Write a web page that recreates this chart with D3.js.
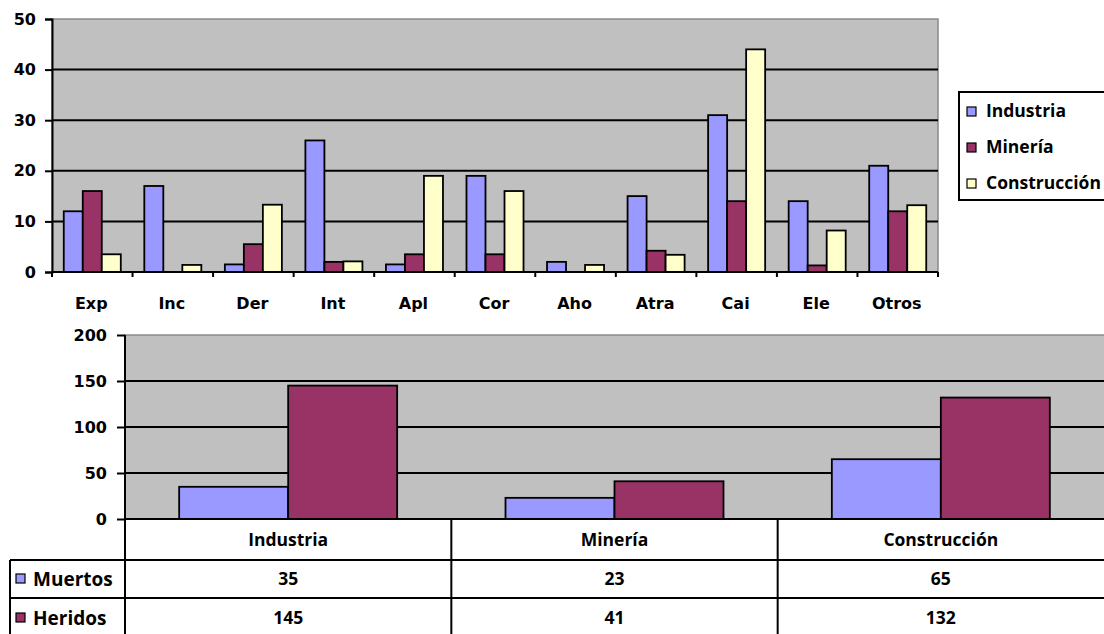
<!DOCTYPE html>
<html>
<head>
<meta charset="utf-8">
<script src="https://cdn.jsdelivr.net/npm/d3@7"></script>
<style>
    body { margin: 0; background: #fff; }
    svg { display: block; }
    .tick-lbl { font-family: "DejaVu Sans", Verdana, sans-serif; font-weight: bold; font-size: 16px; fill: #000; }
    .leg-lbl, .tbl-lbl { font-family: "Open Sans", sans-serif; font-weight: bold; font-size: 17.5px; fill: #000; }
</style>
</head>
<body>
<div id="chart"></div>
<script>
// causes of accidents (top chart), percent by sector
const causas = ["Exp", "Inc", "Der", "Int", "Apl", "Cor", "Aho", "Atra", "Cai", "Ele", "Otros"];
const sectores = ["Industria", "Minería", "Construcción"];
const industria = [12, 17, 1.5, 26, 1.5, 19, 2, 15, 31, 14, 21];
const mineria = [16, 0, 5.5, 2, 3.5, 3.5, 0, 4.2, 14, 1.3, 12];
const construccion = [3.5, 1.4, 13.3, 2.1, 19, 16, 1.4, 3.4, 44, 8.2, 13.2];
const yTicksTop = [0, 10, 20, 30, 40, 50];

// deaths / injuries by sector (bottom chart + table)
const filas = ["Muertos", "Heridos"];
const muertos = [35, 23, 65];
const heridos = [145, 41, 132];
const yTicksBottom = [0, 50, 100, 150, 200];

const colors = ["#9999ff", "#993366", "#ffffcc"];
const plotGray = "#c0c0c0";

let svg = d3.select("#chart").append("svg")
    .attr("width", 1104)
    .attr("height", 634);

/* * * * * top chart * * * * */
let topM = {left: 52, right: 938, top: 19, bottom: 272};

let x0 = d3.scaleBand().domain(causas).range([topM.left, topM.right]);
let bw = x0.bandwidth();
let x1 = d3.scaleBand().domain(sectores).range([bw * 0.146, bw * 0.854]);
let y = d3.scaleLinear().domain([0, 50]).range([topM.bottom, topM.top]);

let gTop = svg.append("g").attr("class", "top-chart");

gTop.append("rect")
    .attr("x", topM.left).attr("y", topM.top)
    .attr("width", topM.right - topM.left).attr("height", topM.bottom - topM.top)
    .attr("fill", plotGray)
    .attr("stroke", "#8a8a8a").attr("stroke-width", 1.5);

// gridlines
gTop.selectAll(".grid")
    .data(yTicksTop.filter(d => d > 0 && d < 50))
    .enter().append("line")
    .attr("class", "grid")
    .attr("x1", topM.left).attr("x2", topM.right)
    .attr("y1", d => y(d)).attr("y2", d => y(d))
    .attr("stroke", "#000").attr("stroke-width", 2);

let topData = causas.map((c, i) => ({
    causa: c,
    values: [industria[i], mineria[i], construccion[i]]
}));

let groups = gTop.selectAll(".grp")
    .data(topData)
    .enter().append("g")
    .attr("class", "grp")
    .attr("transform", d => `translate(${x0(d.causa)},0)`);

groups.selectAll("rect")
    .data(d => d.values.map((v, j) => ({serie: sectores[j], value: v, color: colors[j]})).filter(e => e.value > 0))
    .enter().append("rect")
    .attr("x", d => x1(d.serie))
    .attr("width", x1.bandwidth())
    .attr("y", d => y(d.value))
    .attr("height", d => y(0) - y(d.value))
    .attr("fill", d => d.color)
    .attr("stroke", "#000").attr("stroke-width", 1.8);

// axes
let yAxisTop = d3.axisLeft(y).tickValues(yTicksTop).tickSize(7).tickPadding(9);
gTop.append("g")
    .attr("transform", `translate(${topM.left},0)`)
    .call(yAxisTop)
    .call(g => g.select(".domain").attr("stroke-width", 2))
    .call(g => g.selectAll(".tick line").attr("stroke-width", 2))
    .call(g => g.selectAll(".tick text").attr("class", "tick-lbl").attr("font-size", null).attr("font-family", null));

gTop.append("line")
    .attr("x1", topM.left).attr("x2", topM.right)
    .attr("y1", topM.bottom).attr("y2", topM.bottom)
    .attr("stroke", "#000").attr("stroke-width", 2);

// tick marks at category boundaries
gTop.selectAll(".xtick")
    .data(causas.concat(["end"]))
    .enter().append("line")
    .attr("class", "xtick")
    .attr("x1", (d, i) => topM.left + i * bw).attr("x2", (d, i) => topM.left + i * bw)
    .attr("y1", topM.bottom).attr("y2", topM.bottom + 5)
    .attr("stroke", "#000").attr("stroke-width", 2);

gTop.selectAll(".xlbl")
    .data(causas)
    .enter().append("text")
    .attr("class", "tick-lbl")
    .attr("x", d => x0(d) + bw / 2 - 1)
    .attr("y", 303)
    .attr("dy", "0.35em")
    .attr("text-anchor", "middle")
    .text(d => d);

// legend
let leg = svg.append("g").attr("class", "legend");
leg.append("rect")
    .attr("x", 959).attr("y", 92)
    .attr("width", 160).attr("height", 108)
    .attr("fill", "#fff")
    .attr("stroke", "#000").attr("stroke-width", 2);

let legItems = leg.selectAll(".leg-item")
    .data(sectores)
    .enter().append("g")
    .attr("class", "leg-item")
    .attr("transform", (d, i) => `translate(967, ${111 + i * 36})`);

legItems.append("rect")
    .attr("x", 0).attr("y", -4)
    .attr("width", 9).attr("height", 9)
    .attr("fill", (d, i) => colors[i])
    .attr("stroke", "#000").attr("stroke-width", 1.2);

legItems.append("text")
    .attr("class", "leg-lbl")
    .attr("x", 19).attr("y", 0)
    .attr("dy", "0.35em")
    .text(d => d);

/* * * * * bottom chart with data table * * * * */
let bot = {left: 125, right: 1104, top: 335, bottom: 519};

let xb = d3.scaleBand().domain(sectores).range([bot.left, bot.right]);
let bbw = xb.bandwidth();
let xb1 = d3.scaleBand().domain(filas).range([bbw * 0.166, bbw * 0.834]);
let yb = d3.scaleLinear().domain([0, 200]).range([bot.bottom, bot.top]);

let gBot = svg.append("g").attr("class", "bottom-chart");

gBot.append("rect")
    .attr("x", bot.left).attr("y", bot.top)
    .attr("width", bot.right - bot.left + 2).attr("height", bot.bottom - bot.top)
    .attr("fill", plotGray)
    .attr("stroke", "#8a8a8a").attr("stroke-width", 1.5);

gBot.selectAll(".grid")
    .data(yTicksBottom.filter(d => d > 0 && d < 200))
    .enter().append("line")
    .attr("class", "grid")
    .attr("x1", bot.left).attr("x2", bot.right)
    .attr("y1", d => yb(d)).attr("y2", d => yb(d))
    .attr("stroke", "#000").attr("stroke-width", 2);

let botData = sectores.map((s, i) => ({
    sector: s,
    values: [{fila: "Muertos", value: muertos[i], color: colors[0]},
             {fila: "Heridos", value: heridos[i], color: colors[1]}]
}));

gBot.selectAll(".bgrp")
    .data(botData)
    .enter().append("g")
    .attr("class", "bgrp")
    .attr("transform", d => `translate(${xb(d.sector)},0)`)
    .selectAll("rect")
    .data(d => d.values)
    .enter().append("rect")
    .attr("x", d => xb1(d.fila))
    .attr("width", xb1.bandwidth())
    .attr("y", d => yb(d.value))
    .attr("height", d => yb(0) - yb(d.value))
    .attr("fill", d => d.color)
    .attr("stroke", "#000").attr("stroke-width", 1.8);

let yAxisBot = d3.axisLeft(yb).tickValues(yTicksBottom).tickSize(8).tickPadding(10);
gBot.append("g")
    .attr("transform", `translate(${bot.left},0)`)
    .call(yAxisBot)
    .call(g => g.select(".domain").remove())
    .call(g => g.selectAll(".tick line").attr("stroke-width", 2))
    .call(g => g.selectAll(".tick text").attr("class", "tick-lbl").attr("font-size", null).attr("font-family", null));

// data table
let rowH = [519, 560, 598];
let tbl = svg.append("g").attr("class", "table");

// vertical axis line runs through the table
tbl.append("line")
    .attr("x1", bot.left).attr("x2", bot.left)
    .attr("y1", bot.top).attr("y2", 634)
    .attr("stroke", "#000").attr("stroke-width", 2);

tbl.selectAll(".vline")
    .data(sectores.slice(1))
    .enter().append("line")
    .attr("class", "vline")
    .attr("x1", d => xb(d)).attr("x2", d => xb(d))
    .attr("y1", rowH[0]).attr("y2", 634)
    .attr("stroke", "#000").attr("stroke-width", 2);

tbl.append("line")
    .attr("x1", bot.left).attr("x2", bot.right)
    .attr("y1", rowH[0]).attr("y2", rowH[0])
    .attr("stroke", "#000").attr("stroke-width", 2);

tbl.selectAll(".hline")
    .data([rowH[1], rowH[2]])
    .enter().append("line")
    .attr("class", "hline")
    .attr("x1", 10).attr("x2", bot.right)
    .attr("y1", d => d).attr("y2", d => d)
    .attr("stroke", "#000").attr("stroke-width", 2);

tbl.append("line")
    .attr("x1", 10).attr("x2", 10)
    .attr("y1", rowH[1]).attr("y2", 634)
    .attr("stroke", "#000").attr("stroke-width", 2);

// header row
tbl.selectAll(".hdr")
    .data(sectores)
    .enter().append("text")
    .attr("class", "tbl-lbl")
    .attr("x", d => xb(d) + bbw / 2)
    .attr("y", (rowH[0] + rowH[1]) / 2)
    .attr("dy", "0.35em")
    .attr("text-anchor", "middle")
    .text(d => d);

let tblRows = [muertos, heridos];
tblRows.forEach((vals, r) => {
    let cy = r === 0 ? (rowH[1] + rowH[2]) / 2 : 618;

    tbl.append("rect")
        .attr("x", 16).attr("y", cy - 5)
        .attr("width", 9).attr("height", 9)
        .attr("fill", colors[r])
        .attr("stroke", "#000").attr("stroke-width", 1.2);

    tbl.append("text")
        .attr("class", "tbl-lbl")
        .attr("x", 33).attr("y", cy)
        .attr("dy", "0.35em")
        .style("font-size", "19px")
        .text(filas[r]);

    tbl.selectAll(".val" + r)
        .data(vals)
        .enter().append("text")
        .attr("class", "tbl-lbl")
        .attr("x", (d, i) => xb(sectores[i]) + bbw / 2)
        .attr("y", cy)
        .attr("dy", "0.35em")
        .attr("text-anchor", "middle")
        .text(d => d);
});
</script>
</body>
</html>
